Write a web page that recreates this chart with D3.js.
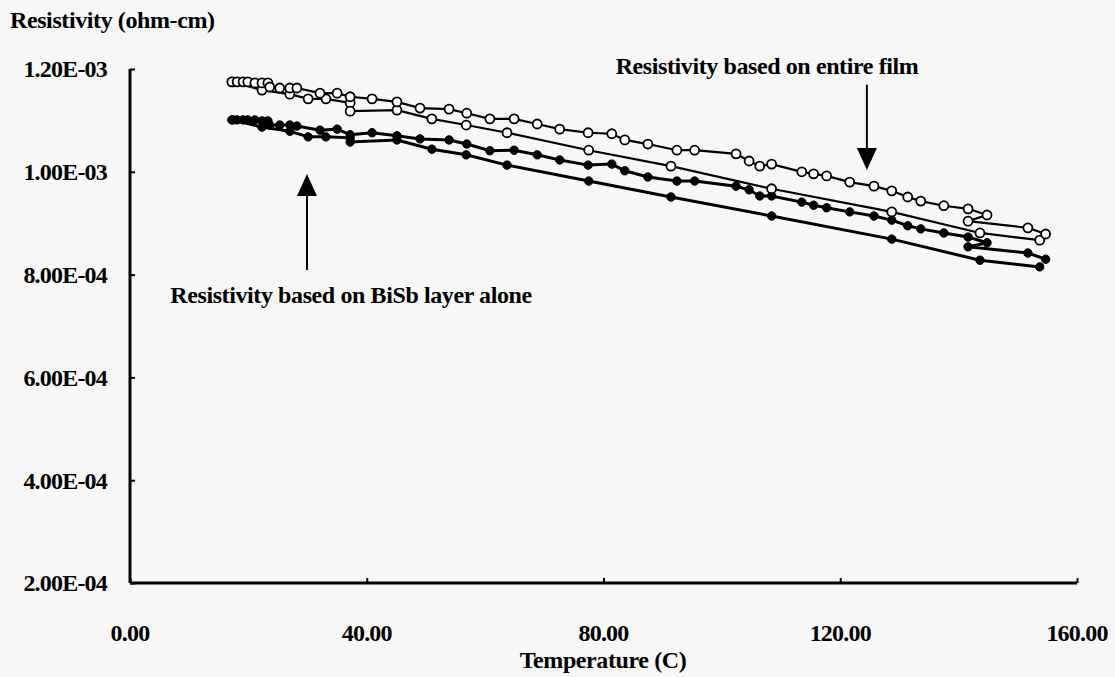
<!DOCTYPE html>
<html>
<head>
<meta charset="utf-8">
<script src="https://cdn.jsdelivr.net/npm/d3@7"></script>
<style>
	html, body { margin: 0; padding: 0; background: #f7f7f7; }
	svg { display: block; }
</style>
</head>
<body>
<div id="chart"></div>
<script>
// Run 1 (dense): temperature (C), resistivity of entire film, resistivity of BiSb layer
const run1Temp = [17.2, 18.1, 19.1, 19.9, 21.1, 22.3, 23.3, 23.6, 25.3, 27.0, 28.2, 32.1, 35.0, 37.2, 40.9, 45.1, 49.0, 53.9, 56.9, 60.8, 64.9, 68.8, 72.6, 77.4, 81.4, 83.6, 87.5, 92.4, 95.4, 102.4, 104.6, 106.4, 108.4, 113.5, 115.5, 117.7, 121.6, 125.7, 128.7, 131.4, 133.6, 137.5, 141.6, 144.8, 141.6, 151.7, 154.7];
const run1Film = [1.175, 1.175, 1.175, 1.175, 1.173, 1.173, 1.173, 1.165, 1.163, 1.163, 1.163, 1.153, 1.153, 1.146, 1.142, 1.136, 1.124, 1.122, 1.114, 1.103, 1.103, 1.093, 1.083, 1.076, 1.074, 1.062, 1.054, 1.042, 1.042, 1.035, 1.021, 1.011, 1.015, 1.000, 0.996, 0.992, 0.980, 0.972, 0.963, 0.951, 0.943, 0.934, 0.928, 0.916, 0.904, 0.891, 0.879].map(v => v * 1e-3);
const run1Layer = [1.101, 1.101, 1.101, 1.101, 1.101, 1.099, 1.099, 1.091, 1.091, 1.091, 1.089, 1.081, 1.083, 1.072, 1.076, 1.070, 1.064, 1.062, 1.054, 1.041, 1.042, 1.033, 1.023, 1.013, 1.015, 1.002, 0.990, 0.982, 0.982, 0.972, 0.965, 0.953, 0.953, 0.941, 0.935, 0.930, 0.922, 0.914, 0.906, 0.895, 0.889, 0.881, 0.873, 0.862, 0.854, 0.842, 0.830].map(v => v * 1e-3);

// Run 2 (sparse)
const run2Temp = [17.4, 22.3, 27.0, 30.1, 33.1, 37.2, 37.2, 45.1, 51.0, 56.8, 63.7, 77.5, 91.4, 108.4, 128.7, 143.6, 153.7];
const run2Film = [1.175, 1.159, 1.151, 1.142, 1.142, 1.134, 1.118, 1.120, 1.103, 1.091, 1.076, 1.042, 1.011, 0.967, 0.922, 0.881, 0.867].map(v => v * 1e-3);
const run2Layer = [1.101, 1.087, 1.079, 1.068, 1.068, 1.066, 1.058, 1.062, 1.044, 1.033, 1.013, 0.982, 0.951, 0.914, 0.869, 0.828, 0.815].map(v => v * 1e-3);

const xTicks = [0, 40, 80, 120, 160];
const yTicks = [2e-4, 4e-4, 6e-4, 8e-4, 1e-3, 1.2e-3];

const yTitle = "Resistivity (ohm-cm)";
const xTitle = "Temperature (C)";
const filmNote = "Resistivity based on entire film";
const layerNote = "Resistivity based on BiSb layer alone";

const width = 1115, height = 677;
const margin = { left: 130, right: 38, top: 69, bottom: 94 };
const font = "'Liberation Serif', 'Times New Roman', serif";
const fontSize = 24;

const x = d3.scaleLinear().domain([0, 160]).range([margin.left, width - margin.right]);
const y = d3.scaleLinear().domain([2e-4, 1.2e-3]).range([height - margin.bottom, margin.top]);

// 1.20E-03 style
const sci = (v) => {
	const [m, e] = v.toExponential(2).split("e");
	const n = +e;
	return `${m}E${n < 0 ? "-" : "+"}${String(Math.abs(n)).padStart(2, "0")}`;
};

const svg = d3.select("#chart").append("svg")
	.attr("width", width)
	.attr("height", height)
	.attr("viewBox", [0, 0, width, height])
	.attr("font-family", font)
	.attr("font-weight", "bold");

svg.append("rect").attr("width", width).attr("height", height).attr("fill", "#f7f7f7");

// Axes
svg.append("g")
	.attr("transform", `translate(${margin.left},0)`)
	.call(d3.axisRight(y).tickValues(yTicks).tickSize(5).tickFormat(""))
	.call(g => g.select(".domain").attr("stroke-width", 3).attr("d", `M0,${margin.top}V${height - margin.bottom}`))
	.call(g => g.selectAll(".tick line").attr("stroke-width", 2));

svg.append("g")
	.attr("transform", `translate(0,${height - margin.bottom})`)
	.call(d3.axisTop(x).tickValues(xTicks).tickSize(5).tickFormat(""))
	.call(g => g.select(".domain").attr("stroke-width", 3).attr("d", `M${margin.left},0H${width - margin.right}`))
	.call(g => g.selectAll(".tick line").attr("stroke-width", 2));

// Tick labels
svg.append("g")
	.selectAll("text")
	.data(yTicks)
	.join("text")
	.attr("x", 107)
	.attr("y", d => y(d))
	.attr("dy", "0.35em")
	.attr("text-anchor", "end")
	.attr("font-size", fontSize)
	.attr("letter-spacing", -0.8)
	.text(sci);

svg.append("g")
	.selectAll("text")
	.data(xTicks)
	.join("text")
	.attr("x", d => x(d))
	.attr("y", 641)
	.attr("text-anchor", "middle")
	.attr("font-size", fontSize)
	.attr("letter-spacing", -0.8)
	.text(d => d.toFixed(2));

// Titles
svg.append("text").attr("x", 10).attr("y", 28).attr("font-size", fontSize).attr("letter-spacing", -0.4).text(yTitle);
svg.append("text").attr("x", 603).attr("y", 668).attr("text-anchor", "middle").attr("font-size", fontSize).attr("letter-spacing", -0.4).text(xTitle);

// Series
const series = [
	{ t: run2Temp, v: run2Layer, filled: true },
	{ t: run1Temp, v: run1Layer, filled: true },
	{ t: run2Temp, v: run2Film, filled: false },
	{ t: run1Temp, v: run1Film, filled: false },
];

const line = d3.line().x(d => x(d[0])).y(d => y(d[1]));

series.forEach(s => {
	const pts = s.t.map((t, i) => [t, s.v[i]]);
	const g = svg.append("g");
	g.append("path")
		.attr("d", line(pts))
		.attr("fill", "none")
		.attr("stroke", "#000")
		.attr("stroke-width", s.filled ? 3 : 2.2);
	g.selectAll("circle")
		.data(pts)
		.join("circle")
		.attr("cx", d => x(d[0]))
		.attr("cy", d => y(d[1]))
		.attr("r", s.filled ? 4.2 : 4.5)
		.attr("fill", s.filled ? "#000" : "#fff")
		.attr("stroke", "#000")
		.attr("stroke-width", s.filled ? 1 : 1.8);
});

// Annotations
const arrow = (xv, fromV, toV) => {
	const x0 = x(xv), y0 = y(fromV), y1 = y(toV);
	const dir = Math.sign(y1 - y0);
	const head = 22;
	svg.append("line")
		.attr("x1", x0).attr("x2", x0)
		.attr("y1", y0).attr("y2", y1 - dir * head)
		.attr("stroke", "#000").attr("stroke-width", 2);
	svg.append("path")
		.attr("d", `M${x0},${y1}L${x0 - 10},${y1 - dir * head}L${x0 + 10},${y1 - dir * head}Z`)
		.attr("fill", "#000");
};

arrow(124.5, 1.1695e-3, 1.0035e-3);
arrow(29.9, 0.809e-3, 0.9957e-3);

svg.append("text").attr("x", 767).attr("y", 74).attr("text-anchor", "middle").attr("font-size", fontSize).attr("letter-spacing", -0.4).text(filmNote);
svg.append("text").attr("x", 351).attr("y", 303).attr("text-anchor", "middle").attr("font-size", fontSize).attr("letter-spacing", -0.4).text(layerNote);
</script>
</body>
</html>
